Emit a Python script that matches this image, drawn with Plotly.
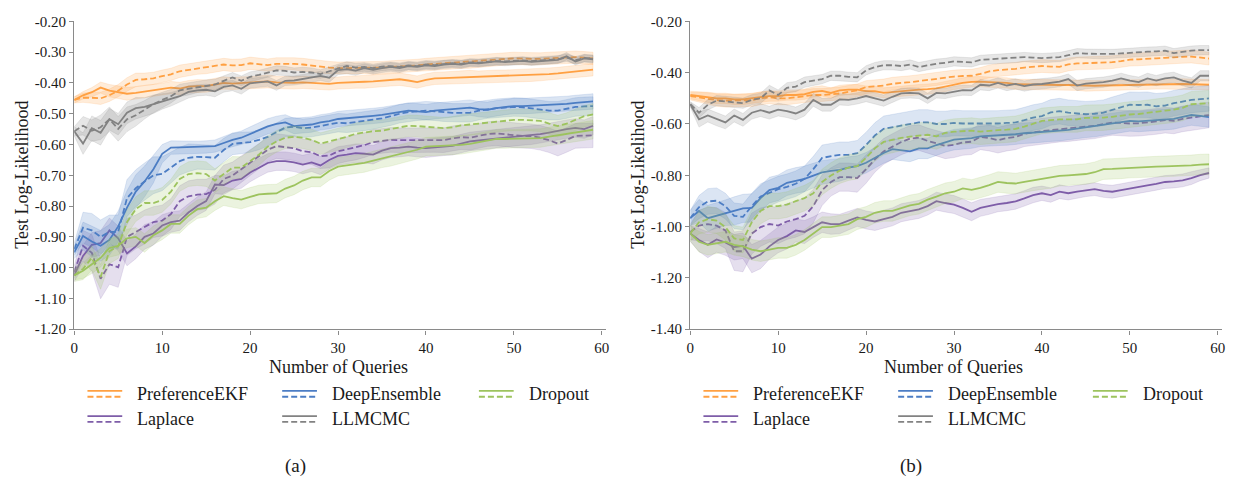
import plotly.graph_objects as go

W, H = 1233, 486

queries = list(range(60))
x_ticks = [0, 10, 20, 30, 40, 50, 60]
a_y_ticks = [-1.2, -1.1, -1.0, -0.9, -0.8, -0.7, -0.6, -0.5, -0.4, -0.3, -0.2]
a_y_labels = ["-1.20", "-1.10", "-1.00", "-0.90", "-0.80", "-0.70", "-0.60", "-0.50", "-0.40", "-0.30", "-0.20"]
b_y_ticks = [-1.4, -1.2, -1.0, -0.8, -0.6, -0.4, -0.2]
b_y_labels = ["-1.40", "-1.20", "-1.00", "-0.80", "-0.60", "-0.40", "-0.20"]

methods = ["PreferenceEKF", "Laplace", "DeepEnsemble", "LLMCMC", "Dropout"]
colors = {
    "PreferenceEKF": "#FFA042",
    "DeepEnsemble": "#4C7DC4",
    "Dropout": "#9DC35E",
    "Laplace": "#7E5DA8",
    "LLMCMC": "#828282",
}

# ---------------- panel (a): mean test log-likelihood ----------------
a_ekf_solid = [-0.455, -0.44, -0.43, -0.415, -0.425, -0.43, -0.435, -0.432, -0.428, -0.425,
               -0.42, -0.415, -0.418, -0.412, -0.41, -0.41, -0.405, -0.40, -0.402, -0.40,
               -0.40, -0.398, -0.395, -0.398, -0.40, -0.40, -0.398, -0.40, -0.402, -0.403,
               -0.40, -0.398, -0.397, -0.396, -0.395, -0.393, -0.39, -0.388, -0.392, -0.397,
               -0.39, -0.385, -0.384, -0.383, -0.382, -0.38, -0.381, -0.379, -0.378, -0.378,
               -0.377, -0.376, -0.375, -0.373, -0.371, -0.369, -0.366, -0.363, -0.36, -0.357]
a_ekf_dashed = [-0.455, -0.448, -0.448, -0.45, -0.44, -0.425, -0.405, -0.39, -0.388, -0.385,
                -0.378, -0.372, -0.362, -0.358, -0.352, -0.35, -0.346, -0.34, -0.343, -0.342,
                -0.336, -0.338, -0.342, -0.338, -0.337, -0.338, -0.34, -0.344, -0.348, -0.35,
                -0.352, -0.352, -0.35, -0.35, -0.352, -0.35, -0.348, -0.347, -0.345, -0.343,
                -0.34, -0.338, -0.337, -0.335, -0.333, -0.332, -0.33, -0.328, -0.325, -0.322,
                -0.32, -0.321, -0.322, -0.322, -0.32, -0.318, -0.317, -0.316, -0.318, -0.32]
a_llm_solid = [-0.557, -0.597, -0.547, -0.562, -0.518, -0.534, -0.497, -0.482, -0.478, -0.469,
               -0.46, -0.453, -0.443, -0.429, -0.424, -0.422, -0.427, -0.413, -0.408, -0.419,
               -0.401, -0.398, -0.395, -0.408, -0.393, -0.392, -0.387, -0.383, -0.377, -0.383,
               -0.358, -0.355, -0.36, -0.352, -0.357, -0.352, -0.348, -0.352, -0.345, -0.348,
               -0.343, -0.345, -0.34, -0.338, -0.34, -0.335, -0.336, -0.333, -0.33, -0.332,
               -0.33, -0.328, -0.331, -0.329, -0.327, -0.325, -0.313, -0.33, -0.32, -0.323]
a_llm_dashed = [-0.557, -0.539, -0.555, -0.544, -0.518, -0.549, -0.518, -0.505, -0.487, -0.469,
                -0.455, -0.443, -0.424, -0.419, -0.413, -0.408, -0.405, -0.393, -0.382, -0.393,
                -0.38, -0.374, -0.366, -0.359, -0.361, -0.366, -0.364, -0.366, -0.371, -0.361,
                -0.353, -0.345, -0.35, -0.348, -0.352, -0.347, -0.345, -0.348, -0.343, -0.345,
                -0.34, -0.342, -0.338, -0.336, -0.338, -0.333, -0.334, -0.331, -0.329, -0.33,
                -0.328, -0.327, -0.329, -0.327, -0.325, -0.323, -0.318, -0.326, -0.319, -0.321]
a_de_solid = [-0.95, -0.897, -0.915, -0.929, -0.91, -0.866, -0.805, -0.753, -0.72, -0.68,
              -0.63, -0.61, -0.609, -0.608, -0.609, -0.608, -0.605, -0.595, -0.585, -0.578,
              -0.565, -0.553, -0.541, -0.533, -0.528, -0.54, -0.538, -0.535, -0.528, -0.524,
              -0.517, -0.515, -0.513, -0.51, -0.507, -0.504, -0.5, -0.495, -0.49, -0.492,
              -0.495, -0.49, -0.488, -0.486, -0.483, -0.48, -0.485, -0.487, -0.482, -0.478,
              -0.475, -0.475, -0.474, -0.472, -0.472, -0.47, -0.468, -0.465, -0.462, -0.46]
a_de_dashed = [-0.94, -0.87, -0.879, -0.9, -0.884, -0.884, -0.774, -0.742, -0.72, -0.70,
               -0.695, -0.675, -0.654, -0.643, -0.64, -0.641, -0.643, -0.618, -0.598, -0.595,
               -0.592, -0.585, -0.575, -0.56, -0.545, -0.542, -0.547, -0.545, -0.54, -0.535,
               -0.529, -0.531, -0.527, -0.525, -0.52, -0.515, -0.508, -0.50, -0.495, -0.492,
               -0.49, -0.492, -0.495, -0.497, -0.497, -0.497, -0.49, -0.485, -0.482, -0.48,
               -0.478, -0.479, -0.482, -0.486, -0.49, -0.49, -0.485, -0.478, -0.476, -0.475]
a_do_solid = [-1.025, -1.01, -0.989, -0.968, -0.936, -0.929, -0.905, -0.90, -0.92, -0.895,
              -0.879, -0.858, -0.858, -0.831, -0.81, -0.805, -0.784, -0.768, -0.774, -0.779,
              -0.77, -0.762, -0.76, -0.759, -0.743, -0.733, -0.717, -0.707, -0.707, -0.686,
              -0.672, -0.668, -0.664, -0.66, -0.652, -0.645, -0.64, -0.632, -0.625, -0.617,
              -0.607, -0.606, -0.604, -0.603, -0.601, -0.598, -0.592, -0.587, -0.582, -0.582,
              -0.581, -0.58, -0.579, -0.579, -0.574, -0.57, -0.565, -0.56, -0.556, -0.552]
a_do_dashed = [-1.025, -1.004, -0.968, -1.03, -0.947, -0.93, -0.852, -0.81, -0.79, -0.79,
               -0.78, -0.753, -0.712, -0.696, -0.693, -0.696, -0.717, -0.695, -0.675, -0.675,
               -0.654, -0.633, -0.607, -0.59, -0.578, -0.575, -0.578, -0.585, -0.597, -0.59,
               -0.584, -0.575, -0.565, -0.56, -0.557, -0.555, -0.55, -0.545, -0.539, -0.54,
               -0.543, -0.545, -0.547, -0.544, -0.538, -0.535, -0.532, -0.528, -0.524, -0.522,
               -0.52, -0.52, -0.521, -0.523, -0.532, -0.54, -0.532, -0.52, -0.508, -0.502]
a_la_solid = [-1.025, -0.962, -0.926, -0.92, -0.879, -0.905, -0.954, -0.931, -0.90, -0.889,
              -0.863, -0.852, -0.847, -0.821, -0.80, -0.784, -0.73, -0.732, -0.717, -0.712,
              -0.691, -0.675, -0.66, -0.654, -0.654, -0.658, -0.665, -0.658, -0.668, -0.65,
              -0.637, -0.633, -0.628, -0.63, -0.633, -0.62, -0.612, -0.61, -0.607, -0.61,
              -0.612, -0.609, -0.606, -0.604, -0.597, -0.59, -0.587, -0.584, -0.581, -0.578,
              -0.575, -0.572, -0.57, -0.566, -0.561, -0.555, -0.55, -0.546, -0.55, -0.539]
a_la_dashed = [-1.015, -0.929, -0.952, -1.036, -0.989, -0.999, -0.90, -0.884, -0.868, -0.852,
               -0.847, -0.826, -0.784, -0.768, -0.763, -0.761, -0.747, -0.712, -0.701, -0.68,
               -0.659, -0.638, -0.617, -0.605, -0.609, -0.612, -0.622, -0.625, -0.638, -0.636,
               -0.622, -0.615, -0.61, -0.602, -0.592, -0.588, -0.585, -0.586, -0.586, -0.587,
               -0.586, -0.585, -0.586, -0.58, -0.576, -0.578, -0.572, -0.566, -0.564, -0.567,
               -0.57, -0.572, -0.573, -0.578, -0.586, -0.597, -0.585, -0.572, -0.571, -0.57]

# ---------------- panel (a): half-width of the shaded band ----------------
a_ekf_solid_band = [0.010, 0.012, 0.015, 0.018, 0.020, 0.020, 0.021, 0.020, 0.020, 0.019,
                    0.019, 0.020, 0.020, 0.020, 0.021, 0.020, 0.020, 0.020, 0.019, 0.020,
                    0.020, 0.020, 0.021, 0.020, 0.020, 0.020, 0.020, 0.019, 0.020, 0.020,
                    0.020, 0.020, 0.020, 0.021, 0.020, 0.020, 0.020, 0.020, 0.020, 0.020,
                    0.020, 0.020, 0.020, 0.020, 0.020, 0.021, 0.020, 0.020, 0.020, 0.020,
                    0.020, 0.020, 0.020, 0.020, 0.020, 0.020, 0.020, 0.020, 0.020, 0.020]
a_ekf_dashed_band = [0.010, 0.015, 0.018, 0.020, 0.020, 0.020, 0.022, 0.022, 0.020, 0.020,
                     0.020, 0.020, 0.020, 0.020, 0.020, 0.020, 0.020, 0.020, 0.020, 0.020,
                     0.020, 0.020, 0.020, 0.020, 0.020, 0.020, 0.020, 0.020, 0.020, 0.020,
                     0.020, 0.020, 0.020, 0.020, 0.020, 0.020, 0.020, 0.020, 0.020, 0.020,
                     0.020, 0.020, 0.020, 0.020, 0.020, 0.020, 0.020, 0.020, 0.020, 0.020,
                     0.020, 0.020, 0.020, 0.020, 0.020, 0.020, 0.020, 0.020, 0.020, 0.020]
a_llm_solid_band = [0.015, 0.035, 0.040, 0.040, 0.035, 0.035, 0.035, 0.035, 0.030, 0.030,
                    0.025, 0.022, 0.020, 0.020, 0.018, 0.018, 0.018, 0.017, 0.017, 0.017,
                    0.016, 0.016, 0.016, 0.016, 0.015, 0.015, 0.015, 0.015, 0.015, 0.015,
                    0.015, 0.015, 0.015, 0.014, 0.014, 0.014, 0.014, 0.014, 0.013, 0.013,
                    0.013, 0.013, 0.013, 0.013, 0.013, 0.012, 0.012, 0.012, 0.012, 0.012,
                    0.012, 0.012, 0.012, 0.012, 0.012, 0.012, 0.012, 0.012, 0.012, 0.012]
a_llm_dashed_band = [0.015, 0.030, 0.035, 0.040, 0.040, 0.040, 0.040, 0.035, 0.030, 0.028,
                     0.025, 0.022, 0.020, 0.020, 0.018, 0.018, 0.017, 0.017, 0.016, 0.016,
                     0.016, 0.015, 0.015, 0.015, 0.015, 0.015, 0.015, 0.015, 0.014, 0.014,
                     0.014, 0.014, 0.014, 0.014, 0.013, 0.013, 0.013, 0.013, 0.013, 0.013,
                     0.013, 0.013, 0.012, 0.012, 0.012, 0.012, 0.012, 0.012, 0.012, 0.012,
                     0.012, 0.012, 0.012, 0.012, 0.012, 0.012, 0.012, 0.012, 0.012, 0.012]
a_de_solid_band = [0.020, 0.045, 0.050, 0.050, 0.050, 0.050, 0.055, 0.055, 0.050, 0.045,
                   0.030, 0.022, 0.020, 0.020, 0.020, 0.020, 0.020, 0.021, 0.022, 0.022,
                   0.023, 0.024, 0.025, 0.025, 0.025, 0.025, 0.025, 0.025, 0.025, 0.025,
                   0.025, 0.025, 0.025, 0.025, 0.025, 0.025, 0.025, 0.025, 0.025, 0.025,
                   0.025, 0.025, 0.025, 0.025, 0.025, 0.025, 0.025, 0.025, 0.025, 0.025,
                   0.025, 0.025, 0.025, 0.025, 0.025, 0.025, 0.025, 0.025, 0.025, 0.025]
a_de_dashed_band = [0.020, 0.050, 0.055, 0.055, 0.055, 0.055, 0.060, 0.060, 0.060, 0.060,
                    0.055, 0.050, 0.045, 0.045, 0.040, 0.040, 0.040, 0.038, 0.035, 0.035,
                    0.033, 0.032, 0.030, 0.030, 0.030, 0.030, 0.030, 0.030, 0.030, 0.030,
                    0.030, 0.030, 0.030, 0.030, 0.030, 0.030, 0.030, 0.030, 0.030, 0.030,
                    0.030, 0.030, 0.030, 0.030, 0.030, 0.030, 0.030, 0.030, 0.030, 0.030,
                    0.030, 0.030, 0.030, 0.030, 0.030, 0.030, 0.030, 0.030, 0.030, 0.030]
a_do_solid_band = [0.015, 0.025, 0.030, 0.030, 0.030, 0.030, 0.030, 0.030, 0.030, 0.030,
                   0.030, 0.030, 0.030, 0.030, 0.030, 0.030, 0.030, 0.030, 0.030, 0.030,
                   0.030, 0.030, 0.030, 0.030, 0.030, 0.030, 0.030, 0.030, 0.030, 0.030,
                   0.030, 0.030, 0.030, 0.030, 0.030, 0.030, 0.030, 0.030, 0.030, 0.030,
                   0.030, 0.030, 0.030, 0.030, 0.030, 0.030, 0.030, 0.030, 0.030, 0.030,
                   0.030, 0.030, 0.030, 0.030, 0.030, 0.030, 0.030, 0.030, 0.030, 0.030]
a_do_dashed_band = [0.020, 0.035, 0.040, 0.040, 0.040, 0.040, 0.040, 0.040, 0.040, 0.040,
                    0.040, 0.040, 0.040, 0.040, 0.040, 0.040, 0.038, 0.037, 0.036, 0.035,
                    0.035, 0.035, 0.035, 0.035, 0.035, 0.035, 0.035, 0.035, 0.035, 0.035,
                    0.035, 0.035, 0.035, 0.035, 0.035, 0.035, 0.035, 0.035, 0.035, 0.035,
                    0.035, 0.035, 0.035, 0.035, 0.035, 0.035, 0.035, 0.035, 0.035, 0.035,
                    0.035, 0.035, 0.035, 0.035, 0.035, 0.035, 0.035, 0.035, 0.035, 0.035]
a_la_solid_band = [0.020, 0.035, 0.040, 0.040, 0.040, 0.040, 0.040, 0.040, 0.040, 0.038,
                   0.035, 0.033, 0.032, 0.030, 0.030, 0.030, 0.030, 0.030, 0.030, 0.030,
                   0.030, 0.030, 0.030, 0.030, 0.030, 0.030, 0.030, 0.030, 0.030, 0.030,
                   0.030, 0.030, 0.030, 0.030, 0.030, 0.030, 0.030, 0.030, 0.030, 0.030,
                   0.030, 0.030, 0.030, 0.030, 0.030, 0.030, 0.030, 0.030, 0.030, 0.030,
                   0.030, 0.030, 0.030, 0.030, 0.030, 0.030, 0.030, 0.030, 0.030, 0.030]
a_la_dashed_band = [0.020, 0.050, 0.060, 0.065, 0.065, 0.065, 0.060, 0.055, 0.055, 0.050,
                    0.050, 0.050, 0.050, 0.050, 0.050, 0.048, 0.046, 0.045, 0.044, 0.043,
                    0.042, 0.040, 0.040, 0.040, 0.040, 0.040, 0.040, 0.040, 0.040, 0.040,
                    0.040, 0.040, 0.040, 0.040, 0.040, 0.040, 0.040, 0.040, 0.040, 0.040,
                    0.040, 0.040, 0.040, 0.040, 0.040, 0.040, 0.040, 0.040, 0.040, 0.040,
                    0.040, 0.040, 0.040, 0.040, 0.040, 0.040, 0.040, 0.040, 0.040, 0.040]

# ---------------- panel (b): mean test log-likelihood ----------------
b_ekf_solid = [-0.487, -0.491, -0.496, -0.50, -0.50, -0.504, -0.504, -0.50, -0.496, -0.491,
               -0.491, -0.487, -0.487, -0.484, -0.475, -0.471, -0.479, -0.469, -0.466, -0.466,
               -0.472, -0.472, -0.479, -0.475, -0.472, -0.469, -0.466, -0.464, -0.461, -0.454,
               -0.446, -0.44, -0.436, -0.435, -0.437, -0.438, -0.44, -0.445, -0.446, -0.446,
               -0.447, -0.447, -0.448, -0.448, -0.449, -0.452, -0.451, -0.45, -0.449, -0.448,
               -0.447, -0.446, -0.445, -0.444, -0.444, -0.443, -0.444, -0.445, -0.446, -0.447]
b_ekf_dashed = [-0.491, -0.496, -0.50, -0.507, -0.509, -0.509, -0.507, -0.507, -0.50, -0.496,
                -0.50, -0.50, -0.496, -0.491, -0.487, -0.487, -0.484, -0.481, -0.475, -0.469,
                -0.456, -0.454, -0.45, -0.443, -0.441, -0.437, -0.433, -0.428, -0.425, -0.419,
                -0.415, -0.413, -0.412, -0.405, -0.395, -0.39, -0.388, -0.385, -0.38, -0.377,
                -0.374, -0.376, -0.377, -0.368, -0.364, -0.363, -0.362, -0.361, -0.359, -0.355,
                -0.349, -0.348, -0.347, -0.344, -0.342, -0.339, -0.338, -0.337, -0.34, -0.345]
b_llm_solid = [-0.523, -0.582, -0.567, -0.582, -0.594, -0.567, -0.584, -0.556, -0.546, -0.556,
               -0.544, -0.55, -0.559, -0.544, -0.506, -0.525, -0.525, -0.504, -0.506, -0.50,
               -0.491, -0.50, -0.509, -0.494, -0.481, -0.479, -0.481, -0.50, -0.479, -0.481,
               -0.473, -0.468, -0.469, -0.447, -0.45, -0.44, -0.45, -0.444, -0.452, -0.446,
               -0.444, -0.44, -0.435, -0.425, -0.45, -0.443, -0.44, -0.437, -0.431, -0.422,
               -0.431, -0.437, -0.422, -0.431, -0.422, -0.418, -0.431, -0.44, -0.412, -0.412]
b_llm_dashed = [-0.523, -0.556, -0.525, -0.509, -0.512, -0.516, -0.519, -0.506, -0.50, -0.469,
                -0.487, -0.459, -0.454, -0.437, -0.431, -0.425, -0.412, -0.412, -0.416, -0.418,
                -0.391, -0.378, -0.371, -0.371, -0.374, -0.368, -0.378, -0.371, -0.365, -0.362,
                -0.356, -0.358, -0.36, -0.35, -0.348, -0.347, -0.345, -0.343, -0.339, -0.341,
                -0.343, -0.341, -0.339, -0.332, -0.324, -0.326, -0.327, -0.328, -0.327, -0.325,
                -0.322, -0.32, -0.318, -0.317, -0.314, -0.324, -0.318, -0.314, -0.312, -0.312]
b_de_solid = [-0.967, -0.939, -0.967, -0.958, -0.946, -0.939, -0.929, -0.927, -0.889, -0.858,
              -0.849, -0.829, -0.82, -0.814, -0.801, -0.789, -0.783, -0.779, -0.77, -0.764,
              -0.751, -0.732, -0.713, -0.698, -0.703, -0.707, -0.695, -0.695, -0.682, -0.67,
              -0.661, -0.658, -0.655, -0.648, -0.646, -0.644, -0.643, -0.64, -0.636, -0.634,
              -0.632, -0.628, -0.626, -0.623, -0.618, -0.613, -0.61, -0.604, -0.598, -0.594,
              -0.588, -0.59, -0.588, -0.586, -0.583, -0.58, -0.572, -0.565, -0.568, -0.573]
b_de_dashed = [-0.967, -0.924, -0.902, -0.899, -0.92, -0.958, -0.962, -0.92, -0.883, -0.87,
               -0.854, -0.845, -0.833, -0.814, -0.776, -0.732, -0.726, -0.72, -0.72, -0.714,
               -0.682, -0.645, -0.619, -0.612, -0.607, -0.60, -0.594, -0.594, -0.60, -0.60,
               -0.596, -0.598, -0.598, -0.599, -0.598, -0.598, -0.596, -0.594, -0.585, -0.575,
               -0.569, -0.555, -0.55, -0.556, -0.559, -0.562, -0.56, -0.556, -0.545, -0.535,
               -0.525, -0.526, -0.525, -0.531, -0.528, -0.519, -0.513, -0.506, -0.503, -0.50]
b_do_solid = [-1.027, -1.059, -1.071, -1.065, -1.059, -1.071, -1.077, -1.09, -1.096, -1.09,
              -1.083, -1.083, -1.071, -1.052, -1.027, -1.002, -1.002, -0.996, -0.99, -0.971,
              -0.962, -0.946, -0.939, -0.939, -0.929, -0.917, -0.911, -0.895, -0.883, -0.87,
              -0.864, -0.851, -0.857, -0.849, -0.838, -0.826, -0.83, -0.832, -0.826, -0.82,
              -0.814, -0.81, -0.802, -0.80, -0.797, -0.795, -0.788, -0.776, -0.775, -0.773,
              -0.77, -0.768, -0.766, -0.766, -0.765, -0.764, -0.762, -0.761, -0.758, -0.757]
b_do_dashed = [-1.027, -0.983, -0.971, -0.977, -1.002, -1.046, -1.052, -0.983, -0.939, -0.92,
               -0.92, -0.914, -0.901, -0.889, -0.87, -0.826, -0.801, -0.782, -0.77, -0.764,
               -0.732, -0.695, -0.67, -0.661, -0.654, -0.649, -0.645, -0.642, -0.648, -0.635,
               -0.63, -0.628, -0.626, -0.63, -0.626, -0.624, -0.622, -0.619, -0.61, -0.598,
               -0.588, -0.585, -0.582, -0.582, -0.582, -0.576, -0.576, -0.575, -0.572, -0.567,
               -0.563, -0.561, -0.556, -0.552, -0.548, -0.544, -0.537, -0.523, -0.52, -0.519]
b_la_solid = [-1.027, -1.052, -1.071, -1.05, -1.062, -1.08, -1.075, -1.125, -1.109, -1.077,
              -1.052, -1.037, -1.015, -1.021, -1.002, -0.983, -0.99, -0.99, -0.977, -0.964,
              -0.974, -0.98, -0.971, -0.962, -0.946, -0.939, -0.933, -0.92, -0.901, -0.908,
              -0.914, -0.927, -0.942, -0.927, -0.92, -0.912, -0.908, -0.902, -0.89, -0.877,
              -0.87, -0.877, -0.864, -0.87, -0.864, -0.858, -0.854, -0.861, -0.864, -0.858,
              -0.851, -0.845, -0.839, -0.833, -0.826, -0.824, -0.82, -0.811, -0.799, -0.791]
b_la_dashed = [-1.021, -0.996, -0.99, -0.996, -1.015, -1.096, -1.096, -1.027, -1.002, -0.99,
               -0.996, -0.98, -0.971, -0.958, -0.92, -0.858, -0.826, -0.807, -0.807, -0.811,
               -0.776, -0.738, -0.707, -0.688, -0.67, -0.657, -0.653, -0.666, -0.675, -0.685,
               -0.681, -0.672, -0.669, -0.65, -0.655, -0.663, -0.655, -0.65, -0.638, -0.632,
               -0.628, -0.624, -0.62, -0.618, -0.615, -0.61, -0.607, -0.60, -0.594, -0.596,
               -0.598, -0.597, -0.594, -0.59, -0.585, -0.588, -0.58, -0.575, -0.57, -0.565]

# ---------------- panel (b): half-width of the shaded band ----------------
b_ekf_solid_band = [0.015, 0.018, 0.020, 0.020, 0.020, 0.020, 0.020, 0.020, 0.020, 0.020,
                    0.020, 0.020, 0.020, 0.020, 0.020, 0.020, 0.020, 0.020, 0.020, 0.020,
                    0.020, 0.020, 0.020, 0.020, 0.020, 0.020, 0.020, 0.020, 0.020, 0.020,
                    0.020, 0.020, 0.020, 0.020, 0.020, 0.020, 0.020, 0.020, 0.020, 0.020,
                    0.020, 0.020, 0.020, 0.020, 0.020, 0.020, 0.020, 0.020, 0.020, 0.020,
                    0.020, 0.020, 0.020, 0.020, 0.020, 0.020, 0.020, 0.020, 0.020, 0.020]
b_ekf_dashed_band = [0.015, 0.020, 0.022, 0.024, 0.025, 0.025, 0.025, 0.025, 0.025, 0.025,
                     0.025, 0.025, 0.025, 0.025, 0.025, 0.025, 0.025, 0.025, 0.025, 0.025,
                     0.025, 0.025, 0.025, 0.025, 0.025, 0.025, 0.025, 0.025, 0.025, 0.025,
                     0.025, 0.025, 0.025, 0.025, 0.025, 0.025, 0.025, 0.025, 0.025, 0.025,
                     0.025, 0.025, 0.025, 0.025, 0.025, 0.025, 0.025, 0.025, 0.025, 0.025,
                     0.025, 0.025, 0.025, 0.025, 0.025, 0.025, 0.025, 0.025, 0.025, 0.025]
b_llm_solid_band = [0.010, 0.030, 0.025, 0.025, 0.025, 0.025, 0.025, 0.025, 0.025, 0.025,
                    0.025, 0.025, 0.025, 0.025, 0.025, 0.025, 0.025, 0.022, 0.022, 0.022,
                    0.022, 0.022, 0.022, 0.022, 0.020, 0.020, 0.020, 0.020, 0.020, 0.020,
                    0.020, 0.020, 0.020, 0.020, 0.020, 0.020, 0.020, 0.020, 0.020, 0.020,
                    0.020, 0.020, 0.020, 0.020, 0.020, 0.020, 0.020, 0.020, 0.020, 0.020,
                    0.020, 0.020, 0.020, 0.020, 0.020, 0.020, 0.020, 0.020, 0.020, 0.020]
b_llm_dashed_band = [0.010, 0.020, 0.020, 0.020, 0.020, 0.020, 0.020, 0.020, 0.020, 0.020,
                     0.020, 0.020, 0.020, 0.020, 0.020, 0.018, 0.018, 0.018, 0.018, 0.018,
                     0.018, 0.018, 0.018, 0.018, 0.018, 0.018, 0.018, 0.018, 0.018, 0.018,
                     0.018, 0.018, 0.018, 0.018, 0.018, 0.018, 0.018, 0.018, 0.018, 0.018,
                     0.018, 0.018, 0.018, 0.018, 0.018, 0.018, 0.018, 0.018, 0.018, 0.018,
                     0.018, 0.018, 0.018, 0.018, 0.018, 0.018, 0.018, 0.018, 0.018, 0.018]
b_de_solid_band = [0.030, 0.045, 0.050, 0.050, 0.050, 0.055, 0.055, 0.055, 0.050, 0.050,
                   0.050, 0.050, 0.050, 0.050, 0.048, 0.046, 0.045, 0.044, 0.042, 0.040,
                   0.040, 0.040, 0.040, 0.040, 0.040, 0.040, 0.040, 0.040, 0.040, 0.040,
                   0.040, 0.040, 0.040, 0.040, 0.040, 0.040, 0.040, 0.040, 0.040, 0.040,
                   0.040, 0.040, 0.040, 0.040, 0.040, 0.040, 0.040, 0.040, 0.040, 0.040,
                   0.040, 0.040, 0.040, 0.040, 0.040, 0.040, 0.040, 0.040, 0.040, 0.040]
b_de_dashed_band = [0.030, 0.045, 0.050, 0.050, 0.050, 0.050, 0.050, 0.050, 0.050, 0.050,
                    0.050, 0.050, 0.050, 0.050, 0.050, 0.050, 0.050, 0.050, 0.050, 0.050,
                    0.050, 0.050, 0.050, 0.050, 0.050, 0.050, 0.050, 0.050, 0.050, 0.050,
                    0.050, 0.050, 0.050, 0.050, 0.050, 0.050, 0.050, 0.050, 0.050, 0.050,
                    0.050, 0.050, 0.050, 0.050, 0.050, 0.050, 0.050, 0.050, 0.050, 0.050,
                    0.050, 0.050, 0.050, 0.050, 0.050, 0.050, 0.050, 0.050, 0.050, 0.050]
b_do_solid_band = [0.030, 0.040, 0.040, 0.040, 0.040, 0.040, 0.040, 0.040, 0.040, 0.040,
                   0.040, 0.040, 0.040, 0.040, 0.040, 0.040, 0.040, 0.040, 0.040, 0.040,
                   0.040, 0.040, 0.040, 0.040, 0.040, 0.040, 0.040, 0.040, 0.040, 0.040,
                   0.040, 0.040, 0.040, 0.040, 0.040, 0.040, 0.040, 0.040, 0.040, 0.040,
                   0.040, 0.040, 0.040, 0.040, 0.040, 0.040, 0.040, 0.040, 0.040, 0.040,
                   0.040, 0.040, 0.040, 0.040, 0.040, 0.040, 0.040, 0.040, 0.040, 0.040]
b_do_dashed_band = [0.030, 0.045, 0.050, 0.050, 0.050, 0.050, 0.050, 0.050, 0.050, 0.050,
                    0.050, 0.050, 0.050, 0.050, 0.050, 0.050, 0.050, 0.050, 0.050, 0.050,
                    0.050, 0.050, 0.050, 0.050, 0.050, 0.050, 0.050, 0.050, 0.050, 0.050,
                    0.050, 0.050, 0.050, 0.050, 0.050, 0.050, 0.050, 0.050, 0.050, 0.050,
                    0.050, 0.050, 0.050, 0.050, 0.050, 0.050, 0.050, 0.050, 0.050, 0.050,
                    0.050, 0.050, 0.050, 0.050, 0.050, 0.050, 0.050, 0.050, 0.050, 0.050]
b_la_solid_band = [0.030, 0.045, 0.050, 0.050, 0.050, 0.050, 0.050, 0.055, 0.055, 0.050,
                   0.050, 0.050, 0.045, 0.045, 0.040, 0.040, 0.040, 0.038, 0.036, 0.035,
                   0.035, 0.035, 0.035, 0.035, 0.035, 0.035, 0.035, 0.035, 0.035, 0.035,
                   0.035, 0.035, 0.035, 0.033, 0.032, 0.030, 0.030, 0.030, 0.030, 0.030,
                   0.028, 0.028, 0.027, 0.026, 0.025, 0.025, 0.025, 0.025, 0.025, 0.025,
                   0.025, 0.025, 0.025, 0.025, 0.025, 0.025, 0.025, 0.025, 0.022, 0.020]
b_la_dashed_band = [0.030, 0.060, 0.065, 0.070, 0.070, 0.075, 0.080, 0.080, 0.075, 0.070,
                    0.070, 0.070, 0.070, 0.070, 0.065, 0.060, 0.055, 0.055, 0.055, 0.055,
                    0.055, 0.050, 0.050, 0.050, 0.050, 0.050, 0.050, 0.050, 0.050, 0.050,
                    0.050, 0.050, 0.050, 0.050, 0.050, 0.050, 0.050, 0.050, 0.050, 0.050,
                    0.050, 0.050, 0.050, 0.050, 0.050, 0.050, 0.050, 0.050, 0.050, 0.050,
                    0.050, 0.050, 0.050, 0.050, 0.050, 0.050, 0.050, 0.050, 0.050, 0.050]

panel_a = {
    "PreferenceEKF": ((a_ekf_solid, a_ekf_solid_band), (a_ekf_dashed, a_ekf_dashed_band)),
    "DeepEnsemble": ((a_de_solid, a_de_solid_band), (a_de_dashed, a_de_dashed_band)),
    "Dropout": ((a_do_solid, a_do_solid_band), (a_do_dashed, a_do_dashed_band)),
    "Laplace": ((a_la_solid, a_la_solid_band), (a_la_dashed, a_la_dashed_band)),
    "LLMCMC": ((a_llm_solid, a_llm_solid_band), (a_llm_dashed, a_llm_dashed_band)),
}
panel_b = {
    "PreferenceEKF": ((b_ekf_solid, b_ekf_solid_band), (b_ekf_dashed, b_ekf_dashed_band)),
    "DeepEnsemble": ((b_de_solid, b_de_solid_band), (b_de_dashed, b_de_dashed_band)),
    "Dropout": ((b_do_solid, b_do_solid_band), (b_do_dashed, b_do_dashed_band)),
    "Laplace": ((b_la_solid, b_la_solid_band), (b_la_dashed, b_la_dashed_band)),
    "LLMCMC": ((b_llm_solid, b_llm_solid_band), (b_llm_dashed, b_llm_dashed_band)),
}


def rgba(hex_color, alpha):
    h = hex_color.lstrip("#")
    r, g, b = int(h[0:2], 16), int(h[2:4], 16), int(h[4:6], 16)
    return f"rgba({r},{g},{b},{alpha})"


FONT = "Liberation Serif"
DASH = "6px,3px"
LINE_W = 1.8

fig = go.Figure()

for panel, (xa, ya) in ((panel_a, ("x", "y")), (panel_b, ("x2", "y2"))):
    for m in methods:
        c = colors[m]
        for (mean, half), dash in zip(panel[m], ("solid", DASH)):
            upper = [v + w for v, w in zip(mean, half)]
            lower = [v - w for v, w in zip(mean, half)]
            fig.add_trace(go.Scatter(
                x=queries + queries[::-1], y=upper + lower[::-1],
                xaxis=xa, yaxis=ya, mode="lines", fill="toself",
                fillcolor=rgba(c, 0.2), line=dict(color=rgba(c, 0.22), width=0.7),
                hoverinfo="skip", showlegend=False))
            fig.add_trace(go.Scatter(
                x=queries, y=mean, xaxis=xa, yaxis=ya, mode="lines",
                line=dict(color=c, width=LINE_W, dash=dash),
                name=m, showlegend=False))

AX_COLOR = "#8a8a8a"
TICK_FONT = dict(family=FONT, size=15, color="#1a1a1a")


def x_axis(domain, anchor):
    return dict(domain=domain, anchor=anchor, range=[0, 60.45], showgrid=False,
                zeroline=False, showline=True, linecolor=AX_COLOR, linewidth=1.4,
                ticks="outside", ticklen=4, tickwidth=1.2, tickcolor=AX_COLOR,
                tickvals=x_ticks, ticktext=[str(t) for t in x_ticks], tickfont=TICK_FONT)


def y_axis(domain, anchor, rng, vals, labels):
    return dict(domain=domain, anchor=anchor, range=rng, showgrid=False,
                zeroline=False, showline=True, linecolor=AX_COLOR, linewidth=1.4,
                ticks="outside", ticklen=4, tickwidth=1.2, tickcolor=AX_COLOR,
                tickvals=vals, ticktext=labels, tickfont=TICK_FONT)


y_dom = [1 - 332.3 / H, 1 - 13.7 / H]
fig.update_layout(
    width=W, height=H, margin=dict(l=0, r=0, t=0, b=0),
    paper_bgcolor="white", plot_bgcolor="white", showlegend=False,
    xaxis=x_axis([70.7 / W, 605.7 / W], "y"),
    yaxis=y_axis(y_dom, "x", [-1.2005, -0.1995], a_y_ticks, a_y_labels),
    xaxis2=x_axis([690.7 / W, 1225.7 / W], "y2"),
    yaxis2=y_axis(y_dom, "x2", [-1.4005, -0.1995], b_y_ticks, b_y_labels),
)

annotations = []
shapes = []
TEXT_COLOR = "#1a1a1a"


def note(text, px, py, size, angle=0, xanchor="center"):
    annotations.append(dict(text=text, x=px / W, y=1 - py / H, xref="paper", yref="paper",
                            showarrow=False, xanchor=xanchor, yanchor="middle",
                            textangle=angle, font=dict(family=FONT, size=size, color=TEXT_COLOR)))


# axis titles and sub-captions
for left, right, ylab_x, caption, cap_x in ((70.7, 605.7, 18.5, "(a)", 293),
                                           (690.7, 1225.7, 638.5, "(b)", 913)):
    note("Number of Queries", (left + right) / 2 - 2, 371, 18)
    note("Test Log-Likelihood", ylab_x, 172, 18, angle=-90)
    note(caption, cap_x, 474, 19)

# legend: each entry shows the solid and the dashed variant
legend_rows = [["PreferenceEKF", "DeepEnsemble", "Dropout"], ["Laplace", "LLMCMC"]]
legend_cols = {"a": [84, 280, 478], "b": [704, 900, 1096]}
row_y = [399, 425]
for key in ("a", "b"):
    for r, row in enumerate(legend_rows):
        for ci, m in enumerate(row):
            x0 = legend_cols[key][ci]
            y = row_y[r]
            for dy, dash in ((-3, "solid"), (3, "dash")):
                shapes.append(dict(type="line", xref="paper", yref="paper",
                                   x0=x0 / W, x1=(x0 + 35) / W,
                                   y0=1 - (y + dy) / H, y1=1 - (y + dy) / H,
                                   line=dict(color=colors[m], width=LINE_W,
                                             dash="solid" if dash == "solid" else DASH)))
            note(m, x0 + 48, y, 18, xanchor="left")

fig.update_layout(annotations=annotations, shapes=shapes)
fig.write_html("out.html")
